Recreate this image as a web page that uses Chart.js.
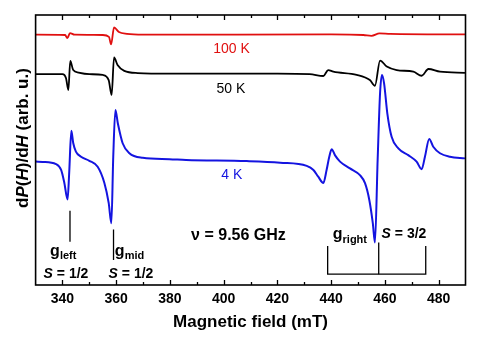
<!DOCTYPE html>
<html>
<head>
<meta charset="utf-8">
<script src="https://cdn.jsdelivr.net/npm/chart.js@4/dist/chart.umd.min.js"></script>
<style>
  html, body { margin: 0; padding: 0; background: #fff; }
</style>
</head>
<body>
<canvas id="epr" width="480" height="338"></canvas>
<script>
// EPR spectra, magnetic field in mT, signal in arbitrary units (offset per temperature)
const field4K = [330.1, 332.6, 337.6, 339.5, 340.7, 341.9, 342.5, 343.3, 344.0, 345.0, 346.9, 350.0, 353.1, 355.6, 357.2, 358.2, 358.9, 359.7, 360.6, 362.4, 364.9, 369.9, 379.8, 386.0, 408.6, 421.0, 430.9, 433.4, 435.2, 437.1, 438.3, 439.3, 440.2, 441.4, 443.3, 447.0, 450.7, 452.6, 454.2, 455.5, 456.3, 457.3, 458.2, 458.9, 459.7, 460.9, 462.5, 465.0, 468.7, 471.8, 473.7, 474.9, 476.5, 478.0, 480.5, 484.2, 489.8];
const signal4K = [45.7, 45.6, 44.8, 42.6, 37.8, 31.7, 41.5, 57.1, 52.6, 49.4, 47.5, 46.0, 43.8, 37.8, 30.4, 22.9, 47.5, 64.8, 59.9, 52.5, 48.8, 47.1, 46.6, 46.3, 45.9, 45.3, 44.1, 42.6, 40.1, 37.8, 42.6, 47.5, 50.3, 48.1, 45.7, 43.2, 40.7, 37.7, 31.5, 22.9, 15.7, 46.3, 71.0, 77.8, 74.7, 63.6, 54.9, 50.6, 48.1, 45.7, 42.9, 47.5, 54.1, 51.2, 48.8, 47.5, 46.9];

const field50K = [330.1, 340.0, 341.3, 342.2, 342.9, 344.0, 346.0, 350.0, 355.0, 357.2, 358.3, 359.2, 360.5, 363.0, 368.0, 380.0, 420.0, 432.0, 437.1, 438.9, 440.8, 449.5, 454.4, 456.3, 458.2, 460.7, 464.4, 470.6, 473.7, 476.2, 480.5, 489.8];
const signal50K = [78.1, 78.1, 76.7, 72.2, 83.0, 79.6, 78.7, 78.1, 77.8, 75.9, 70.4, 84.3, 81.5, 79.3, 78.5, 78.3, 78.3, 78.1, 77.4, 79.6, 79.0, 77.8, 75.9, 73.8, 83.1, 80.9, 79.6, 79.0, 77.5, 80.0, 79.0, 78.6];

const field100K = [330.1, 341.0, 341.8, 342.8, 344.5, 355.0, 357.3, 358.1, 359.2, 361.0, 364.0, 370.0, 440.0, 452.0, 455.0, 458.0, 462.0, 489.8];
const signal100K = [92.7, 92.6, 91.4, 93.3, 92.7, 92.6, 91.9, 89.1, 95.4, 93.7, 93.0, 92.7, 92.8, 92.6, 92.3, 93.2, 93.0, 92.8];

// g-factor marker lines
const gLeftX = [342.8, 342.8], gLeftY = [27.5, 16.0];
const gMidX = [359.0, 359.0], gMidY = [20.6, 9.3];
const gRightX = [438.7, 438.7, 475.2, 475.2], gRightY = [14.4, 4.0, 4.0, 14.4];
const gRightMidX = [457.7, 457.7], gRightMidY = [15.7, 4.0];

const xTicks = [340, 360, 380, 400, 420, 440, 460, 480];
const minorStep = 10;

const FONT = "'Liberation Sans', Arial, sans-serif";
const pts = (xs, ys) => xs.map((x, i) => ({ x: x, y: ys[i] }));

// text drawn in data coordinates: [field, signal]
const textNotes = [
  { at: [402.9, 85.9], align: 'center', color: '#e01010', runs: [['100 K', 'normal', 14]] },
  { at: [402.7, 71.1], align: 'center', color: '#000', runs: [['50 K', 'normal', 14]] },
  { at: [403.0, 39.3], align: 'center', color: '#1414e0', runs: [['4 K', 'normal', 14]] },
  { at: [405.5, 16.7], align: 'center', color: '#000', runs: [['\u03bd = 9.56 GHz', 'bold', 16]] },
  { at: [335.4, 10.9], align: 'left', color: '#000', runs: [['g', 'bold', 16], ['left', 'bold', 11, 3.5]] },
  { at: [359.5, 10.9], align: 'left', color: '#000', runs: [['g', 'bold', 16], ['mid', 'bold', 11, 3.5]] },
  { at: [440.6, 17.0], align: 'left', color: '#000', runs: [['g', 'bold', 16], ['right', 'bold', 11, 3.5]] },
  { at: [341.3, 2.6], align: 'center', color: '#000', runs: [['S', 'italic bold', 14], [' = 1/2', 'bold', 14]] },
  { at: [365.5, 2.6], align: 'center', color: '#000', runs: [['S', 'italic bold', 14], [' = 1/2', 'bold', 14]] },
  { at: [467.1, 17.3], align: 'center', color: '#000', runs: [['S', 'italic bold', 14], [' = 3/2', 'bold', 14]] }
];

const yTitleRuns = [['d', 'bold'], ['P', 'italic bold'], ['(', 'bold'], ['H', 'italic bold'], [')/d', 'bold'], ['H', 'italic bold'], [' (arb. u.)', 'bold']];

function drawRuns(ctx, runs, x, y, align) {
  let w = 0;
  runs.forEach(r => { ctx.font = r[1] + ' ' + r[2] + 'px ' + FONT; w += ctx.measureText(r[0]).width; });
  let cx = align === 'center' ? x - w / 2 : x;
  runs.forEach(r => {
    ctx.font = r[1] + ' ' + r[2] + 'px ' + FONT;
    ctx.fillText(r[0], cx, y + (r[3] || 0));
    cx += ctx.measureText(r[0]).width;
  });
}

const framePlugin = {
  id: 'frame',
  afterDatasetsDraw(chart) {
    const { ctx, chartArea: a, scales: { x, y } } = chart;
    ctx.save();
    ctx.strokeStyle = '#000';
    ctx.lineWidth = 1.6;
    ctx.strokeRect(a.left, a.top, a.right - a.left, a.bottom - a.top);
    ctx.lineWidth = 1.3;
    ctx.beginPath();
    for (let v = x.min + minorStep; v < x.max; v += minorStep) {
      const px = Math.round(x.getPixelForValue(v)) + 0.5;
      const len = xTicks.includes(v) ? 5 : 3;
      ctx.moveTo(px, a.bottom); ctx.lineTo(px, a.bottom - len);
      ctx.moveTo(px, a.top); ctx.lineTo(px, a.top + len);
    }
    ctx.stroke();

    ctx.textBaseline = 'alphabetic';
    textNotes.forEach(n => {
      ctx.fillStyle = n.color;
      drawRuns(ctx, n.runs, x.getPixelForValue(n.at[0]), y.getPixelForValue(n.at[1]), n.align);
    });

    // y axis title with italic symbols
    ctx.fillStyle = '#000';
    ctx.translate(28, (a.top + a.bottom) / 2 - 12);
    ctx.rotate(-Math.PI / 2);
    drawRuns(ctx, yTitleRuns.map(r => [r[0], r[1], 17]), 0, 0, 'center');
    ctx.restore();
  }
};

const curve = (data, color, width) => ({
  data: data, borderColor: color, borderWidth: width, pointRadius: 0,
  fill: false, cubicInterpolationMode: 'monotone'
});
const marker = (data) => ({
  data: data, borderColor: '#000', borderWidth: 1.3, pointRadius: 0, fill: false, tension: 0
});

new Chart(document.getElementById('epr').getContext('2d'), {
  type: 'line',
  data: {
    datasets: [
      curve(pts(field100K, signal100K), '#e01010', 1.8),
      curve(pts(field50K, signal50K), '#000000', 1.8),
      curve(pts(field4K, signal4K), '#1414e0', 2),
      marker(pts(gLeftX, gLeftY)),
      marker(pts(gMidX, gMidY)),
      marker(pts(gRightX, gRightY)),
      marker(pts(gRightMidX, gRightMidY))
    ]
  },
  options: {
    responsive: false,
    animation: false,
    devicePixelRatio: 1,
    layout: { padding: { top: 15, right: 14.5, left: 0, bottom: 0 } },
    plugins: { legend: { display: false }, tooltip: { enabled: false } },
    scales: {
      x: {
        type: 'linear', min: 330, max: 490,
        afterBuildTicks: s => { s.ticks = xTicks.map(v => ({ value: v })); },
        afterFit: s => { s.height = 53; },
        grid: { display: false, drawTicks: false },
        border: { display: false },
        ticks: { color: '#000', font: { family: FONT, size: 14, weight: 'bold' }, padding: 6, maxRotation: 0, autoSkip: false },
        title: { display: true, text: 'Magnetic field (mT)', color: '#000', font: { family: FONT, size: 17, weight: 'bold' }, padding: { top: 0, bottom: 5.5 } }
      },
      y: {
        min: 0, max: 100,
        afterFit: s => { s.width = 35.6; },
        grid: { display: false, drawTicks: false },
        border: { display: false },
        ticks: { display: false }
      }
    }
  },
  plugins: [framePlugin]
});
</script>
</body>
</html>
